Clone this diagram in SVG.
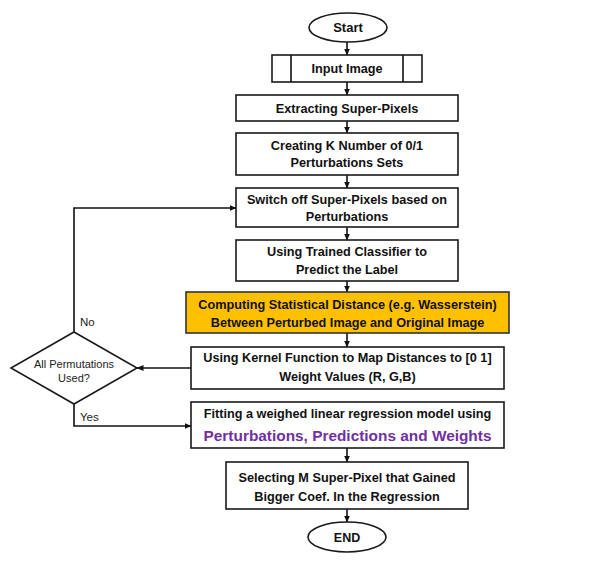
<svg xmlns="http://www.w3.org/2000/svg" width="599" height="567" viewBox="0 0 599 567">
<defs>
<marker id="ah" markerWidth="7" markerHeight="6" refX="6.5" refY="3" orient="auto" markerUnits="userSpaceOnUse">
<path d="M0,0 L7,3 L0,6 Z" fill="#111"/>
</marker>
<style>
.box{fill:#fff;stroke:#1a1a1a;stroke-width:1.6}
.hl{fill:#FFC000;stroke:#333;stroke-width:1.6}
.t{font-family:"Liberation Sans",Arial,sans-serif;font-weight:bold;font-size:12.7px;fill:#111;text-anchor:middle}
.p{font-family:"Liberation Sans",Arial,sans-serif;font-weight:bold;font-size:15.4px;fill:#7030A0;text-anchor:middle}
.r{font-family:"Liberation Sans",Arial,sans-serif;font-size:11px;fill:#222;text-anchor:middle}
.l{font-family:"Liberation Sans",Arial,sans-serif;font-size:11.5px;fill:#222}
.c{fill:none;stroke:#111;stroke-width:1.6}
</style>
</defs>
<rect width="599" height="567" fill="#fff"/>
<g id="connectors">
<line class="c" x1="347" y1="42" x2="347" y2="55" marker-end="url(#ah)"/>
<line class="c" x1="347" y1="82" x2="347" y2="95" marker-end="url(#ah)"/>
<line class="c" x1="347" y1="121" x2="347" y2="133" marker-end="url(#ah)"/>
<line class="c" x1="347" y1="175" x2="347" y2="188" marker-end="url(#ah)"/>
<line class="c" x1="347" y1="227" x2="347" y2="240" marker-end="url(#ah)"/>
<line class="c" x1="347" y1="281" x2="347" y2="292" marker-end="url(#ah)"/>
<line class="c" x1="347" y1="333" x2="347" y2="347" marker-end="url(#ah)"/>
<line class="c" x1="347" y1="448" x2="347" y2="462" marker-end="url(#ah)"/>
<line class="c" x1="347" y1="509" x2="347" y2="522" marker-end="url(#ah)"/>
<polyline class="c" points="74,332 74,208 236,208" marker-end="url(#ah)"/>
<line class="c" x1="191" y1="368" x2="137" y2="368" marker-end="url(#ah)"/>
<polyline class="c" points="74,404 74,426 191,426" marker-end="url(#ah)"/>
<text class="l" x="80" y="326">No</text>
<text class="l" x="80" y="421">Yes</text>
</g>
<g id="start">
<ellipse class="box" cx="348" cy="27.5" rx="39" ry="14.5"/>
<text class="t" x="348" y="32" style="font-size:13px">Start</text>
</g>
<g id="input">
<rect class="box" x="272" y="55" width="150" height="27"/>
<line class="c" x1="291" y1="55" x2="291" y2="82"/>
<line class="c" x1="403" y1="55" x2="403" y2="82"/>
<text class="t" x="347" y="73">Input Image</text>
</g>
<g id="extract">
<rect class="box" x="236" y="95" width="222" height="26"/>
<text class="t" x="347" y="112.5">Extracting Super-Pixels</text>
</g>
<g id="create">
<rect class="box" x="236" y="133" width="222" height="42"/>
<text class="t" x="347" y="150">Creating K Number of 0/1</text>
<text class="t" x="347" y="167">Perturbations Sets</text>
</g>
<g id="switch">
<rect class="box" x="236" y="188" width="222" height="39"/>
<text class="t" x="347" y="204">Switch off Super-Pixels based on</text>
<text class="t" x="347" y="221">Perturbations</text>
</g>
<g id="classify">
<rect class="box" x="236" y="240" width="222" height="41"/>
<text class="t" x="347" y="256">Using Trained Classifier to</text>
<text class="t" x="347" y="274">Predict the Label</text>
</g>
<g id="distance">
<rect class="hl" x="186" y="292" width="323" height="41"/>
<text class="t" x="347.5" y="309">Computing Statistical Distance (e.g. Wasserstein)</text>
<text class="t" x="347.5" y="327">Between Perturbed Image and Original Image</text>
</g>
<g id="kernel">
<rect class="box" x="191" y="347" width="313" height="42"/>
<text class="t" x="347.5" y="362">Using Kernel Function to Map Distances to [0 1]</text>
<text class="t" x="347.5" y="381">Weight Values (R, G,B)</text>
</g>
<g id="decision">
<polygon class="box" points="74,332 137,368 74,404 11,368"/>
<text class="r" x="74" y="367.5">All Permutations</text>
<text class="r" x="74" y="382">Used?</text>
</g>
<g id="fit">
<rect class="box" x="191" y="402" width="313" height="46"/>
<text class="t" x="347.5" y="418">Fitting a weighed linear regression model using</text>
<text class="p" x="347.5" y="441">Perturbations, Predictions and Weights</text>
</g>
<g id="select">
<rect class="box" x="226" y="462" width="242" height="47"/>
<text class="t" x="347" y="482">Selecting M Super-Pixel that Gained</text>
<text class="t" x="347" y="501">Bigger Coef. In the Regression</text>
</g>
<g id="end">
<ellipse class="box" cx="347" cy="537" rx="39" ry="15"/>
<text class="t" x="347" y="541.5" style="font-size:12.5px">END</text>
</g>
</svg>
